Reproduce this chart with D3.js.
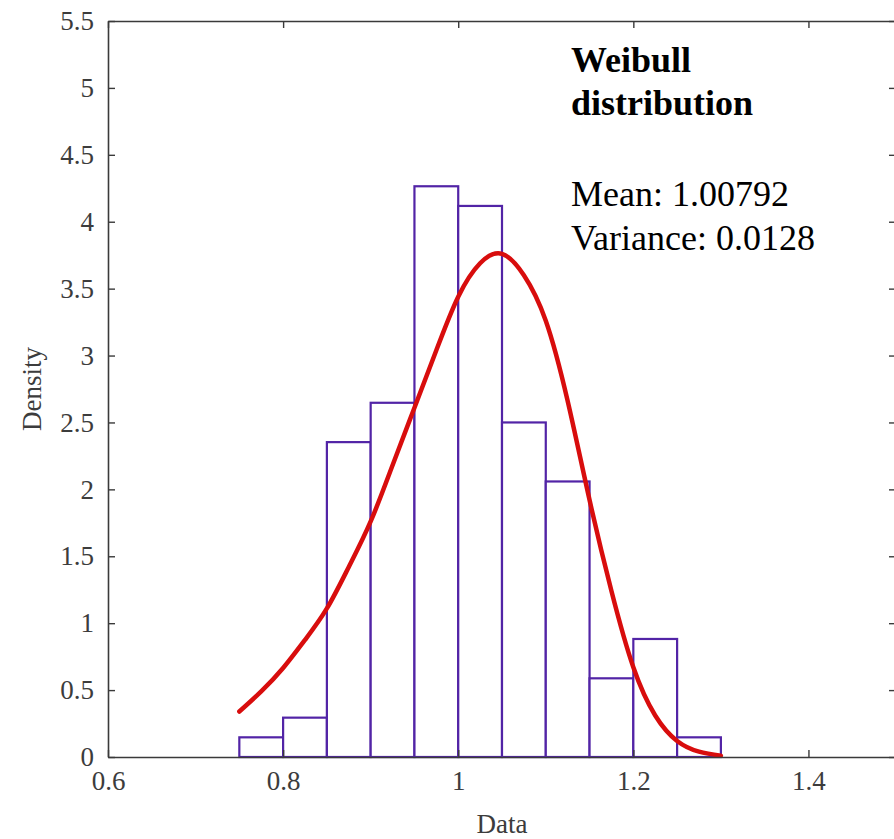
<!DOCTYPE html>
<html><head><meta charset="utf-8">
<script src="https://cdn.jsdelivr.net/npm/d3@7"></script>
<style>
html,body{margin:0;padding:0;background:#fff;}
svg{display:block;}
text{font-family:"Liberation Serif","Times New Roman",serif;}
</style></head>
<body>
<svg id="c" width="894" height="839"></svg>
<script>
// bin edges (lower edge of each bin; width 0.05)
const binStarts = [0.75,0.80,0.85,0.90,0.95,1.00,1.05,1.10,1.15,1.20,1.25];
const binWidth = 0.05;
const binDensity = [0.147,0.294,2.353,2.647,4.265,4.118,2.500,2.059,0.588,0.882,0.147];
// fitted Weibull curve
const curveX = [0.75,0.775,0.80,0.825,0.85,0.875,0.90,0.925,0.95,0.975,1.00,1.025,1.05,1.075,1.10,1.125,1.15,1.175,1.20,1.225,1.25,1.275,1.30];
const curveY = [0.34,0.49,0.665,0.875,1.11,1.42,1.76,2.18,2.61,3.04,3.44,3.69,3.76,3.60,3.26,2.66,1.92,1.24,0.67,0.31,0.12,0.04,0.01];
const xTicks = [0.6,0.8,1.0,1.2,1.4];
const yTicks = [0,0.5,1,1.5,2,2.5,3,3.5,4,4.5,5,5.5];
const titleLines = ["Weibull","distribution"];
const statLines = ["Mean: 1.00792","Variance: 0.0128"];

const svg = d3.select("#c");
const L=108, R=896, T=21, B=757;
const x = d3.scaleLinear().domain([0.6,1.5]).range([L,R]);
const y = d3.scaleLinear().domain([0,5.5]).range([B,T]);
const axisCol = "#3a3a3a", tickTxt = "#3c3c3c";

// bars
svg.append("g").selectAll("rect").data(binStarts).join("rect")
  .attr("x",(d)=>x(d))
  .attr("y",(d,i)=>y(binDensity[i]))
  .attr("width",(d)=>x(d+binWidth)-x(d))
  .attr("height",(d,i)=>y(0)-y(binDensity[i]))
  .attr("fill","#fff").attr("stroke","#5224a6").attr("stroke-width",2.2);

// curve
const pts = curveX.map((v,i)=>[v,curveY[i]]);
svg.append("path").datum(pts)
  .attr("d", d3.line().x(d=>x(d[0])).y(d=>y(d[1])).curve(d3.curveNatural))
  .attr("fill","none").attr("stroke","#d80d0d").attr("stroke-width",4.5).attr("stroke-linecap","round");

// axes
function styleAxis(g){
  g.select(".domain").attr("stroke",axisCol).attr("stroke-width",1.6);
  g.selectAll(".tick line").attr("stroke",axisCol).attr("stroke-width",1.4);
  g.selectAll(".tick text").attr("fill",tickTxt).style("font-size","27px").style("font-family","'Liberation Serif',serif");
}
const fmt = d=>String(+d.toFixed(2));
const gx = svg.append("g").attr("transform",`translate(0,${B})`)
  .call(d3.axisBottom(x).tickValues(xTicks).tickFormat(fmt).tickSizeInner(-7).tickSizeOuter(0).tickPadding(14));
styleAxis(gx);
const gxt = svg.append("g").attr("transform",`translate(0,${T})`)
  .call(d3.axisTop(x).tickValues(xTicks).tickFormat("").tickSizeInner(-7).tickSizeOuter(0));
styleAxis(gxt);
const gy = svg.append("g").attr("transform",`translate(${L},0)`)
  .call(d3.axisLeft(y).tickValues(yTicks).tickFormat(fmt).tickSizeInner(-7).tickSizeOuter(0).tickPadding(14));
styleAxis(gy);
const gyr = svg.append("g").attr("transform",`translate(${R},0)`)
  .call(d3.axisRight(y).tickValues(yTicks).tickFormat("").tickSizeInner(-7).tickSizeOuter(0));
styleAxis(gyr);

// axis titles
svg.append("text").attr("x",(L+R)/2).attr("y",833).attr("text-anchor","middle")
  .attr("fill",tickTxt).style("font-size","27px").text("Data");
svg.append("text").attr("transform",`translate(41,${(T+B)/2}) rotate(-90)`).attr("text-anchor","middle")
  .attr("fill",tickTxt).style("font-size","27px").text("Density");

// annotation
titleLines.forEach((t,i)=>svg.append("text").attr("x",571).attr("y",72+i*43)
  .attr("fill","#000").style("font-size","36px").style("font-weight","bold").text(t));
statLines.forEach((t,i)=>svg.append("text").attr("x",571).attr("y",206+i*44)
  .attr("fill","#000").style("font-size","36px").text(t));
</script>
</body></html>
